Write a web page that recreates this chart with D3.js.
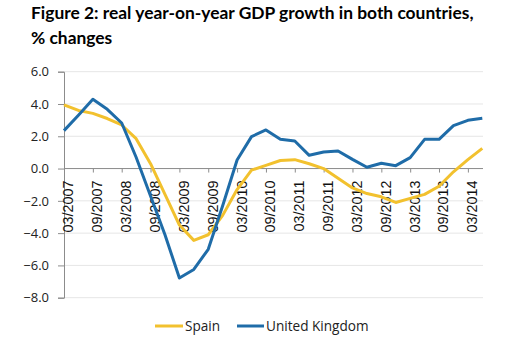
<!DOCTYPE html>
<html>
<head>
<meta charset="utf-8">
<script src="https://cdn.jsdelivr.net/npm/d3@7"></script>
<style>
  body { margin: 0; background: #fff; }
  svg { display: block; }
</style>
</head>
<body>
<svg id="chart" width="531" height="350"></svg>
<script>
// quarterly labels, 03/2007 .. 06/2014
const quarters = [
  "03/2007", "06/2007", "09/2007", "12/2007",
  "03/2008", "06/2008", "09/2008", "12/2008",
  "03/2009", "06/2009", "09/2009", "12/2009",
  "03/2010", "06/2010", "09/2010", "12/2010",
  "03/2011", "06/2011", "09/2011", "12/2011",
  "03/2012", "06/2012", "09/2012", "12/2012",
  "03/2013", "06/2013", "09/2013", "12/2013",
  "03/2014", "06/2014"
];
const spain = [3.94, 3.6, 3.42, 3.1, 2.7, 1.85, 0.3, -1.6, -3.5, -4.45, -4.1, -2.9, -1.3, -0.1, 0.2, 0.5,
  0.55, 0.3, 0.0, -0.6, -1.2, -1.55, -1.75, -2.1, -1.85, -1.6, -1.1, -0.2, 0.55, 1.25];
const uk = [2.35, 3.3, 4.29, 3.67, 2.82, 0.7, -1.7, -4.1, -6.78, -6.25, -5.0, -2.3, 0.53, 1.98, 2.39, 1.81,
  1.71, 0.82, 1.03, 1.09, 0.57, 0.08, 0.33, 0.18, 0.68, 1.81, 1.81, 2.66, 2.99, 3.11];
const yTicks = [6, 4, 2, 0, -2, -4, -6, -8];
const seriesNames = ["Spain", "United Kingdom"];

const colors = { "Spain": "#f2c12e", "United Kingdom": "#1f6ca8" };
const series = [
  { name: "Spain", values: spain },
  { name: "United Kingdom", values: uk }
];

const svg = d3.select("#chart");
const plotLeft = 64, plotRight = 483;

const x = d3.scalePoint()
  .domain(quarters)
  .range([plotLeft, 482.3]);

const y = d3.scaleLinear()
  .domain([-8, 6])
  .range([297.7, 71.7]);

// title
const title = svg.append("g")
  .attr("font-family", "Lato, 'Open Sans', sans-serif")
  .attr("font-weight", "bold")
  .attr("font-size", 17.4)
  .attr("fill", "#000");
title.append("text").attr("x", 31).attr("y", 19)
  .text("Figure 2: real year-on-year GDP growth in both countries,");
title.append("text").attr("x", 31).attr("y", 44)
  .text("% changes");

// gridlines
svg.append("g")
  .selectAll("line")
  .data(yTicks)
  .enter()
  .append("line")
  .attr("x1", plotLeft)
  .attr("x2", plotRight)
  .attr("y1", d => y(d))
  .attr("y2", d => y(d))
  .attr("stroke", "#e6e6e6")
  .attr("stroke-width", 1);

// y axis
const yAxis = svg.append("g")
  .attr("transform", `translate(${plotLeft},0)`)
  .call(d3.axisLeft(y).tickValues(yTicks).tickFormat(d3.format(".1f")).tickSize(6).tickPadding(9));
yAxis.select(".domain").attr("stroke", "#8c8c8c");
yAxis.selectAll(".tick line").attr("stroke", "#8c8c8c");
yAxis.selectAll("text")
  .attr("font-family", "'Open Sans', sans-serif")
  .attr("font-size", 13)
  .attr("fill", "#222");

// x axis at zero
const everyOther = quarters.filter((q, i) => i % 2 === 0);
const xAxis = svg.append("g")
  .attr("transform", `translate(0,${y(0)})`)
  .call(d3.axisBottom(x).tickValues(everyOther).tickSize(4).tickSizeOuter(0));
xAxis.select(".domain").attr("stroke", "#8c8c8c").attr("d", `M${plotLeft},0H${plotRight}`);
xAxis.selectAll(".tick line").attr("stroke", "#8c8c8c");
xAxis.selectAll("text")
  .attr("font-family", "'Liberation Sans', Arial, sans-serif")
  .attr("font-size", 14.4)
  .attr("fill", "#111")
  .attr("text-anchor", "end")
  .attr("dy", "0.62em")
  .attr("y", 0)
  .attr("transform", "translate(0,12) rotate(-90)")
  .attr("x", 0);

// lines
const line = d3.line()
  .x((d, i) => x(quarters[i]))
  .y(d => y(d));

svg.append("g")
  .selectAll("path")
  .data(series)
  .enter()
  .append("path")
  .attr("d", d => line(d.values))
  .attr("fill", "none")
  .attr("stroke", d => colors[d.name])
  .attr("stroke-width", 3)
  .attr("stroke-linejoin", "round");

// legend
const legendItems = [
  { name: seriesNames[0], x0: 155, x1: 183, tx: 185 },
  { name: seriesNames[1], x0: 237, x1: 264, tx: 266 }
];
const legend = svg.append("g");
legend.selectAll("line")
  .data(legendItems)
  .enter()
  .append("line")
  .attr("x1", d => d.x0)
  .attr("x2", d => d.x1)
  .attr("y1", 326)
  .attr("y2", 326)
  .attr("stroke", d => colors[d.name])
  .attr("stroke-width", 3);
legend.selectAll("text")
  .data(legendItems)
  .enter()
  .append("text")
  .attr("x", d => d.tx)
  .attr("y", 330.5)
  .attr("font-family", "'Open Sans', sans-serif")
  .attr("font-size", 13.6)
  .attr("fill", "#222")
  .text(d => d.name);
</script>
</body>
</html>
